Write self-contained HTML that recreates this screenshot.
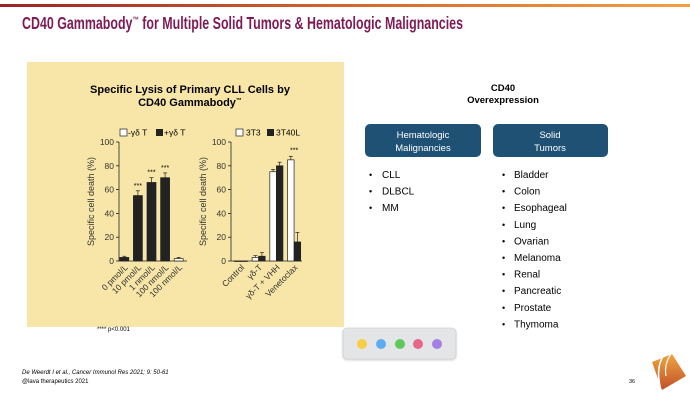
<!DOCTYPE html>
<html><head><meta charset="utf-8"><style>
html,body{margin:0;padding:0;background:#fff;}
svg{display:block;font-family:"Liberation Sans",Arial,sans-serif;}
</style></head><body>
<svg id="s" width="690" height="404" viewBox="0 0 690 404">
<defs>
<linearGradient id="tg" x1="0" x2="1"><stop offset="0" stop-color="#9c2228"/><stop offset="0.5" stop-color="#d4662c"/><stop offset="1" stop-color="#f3a043"/></linearGradient>
<linearGradient id="lg" x1="0" y1="0" x2="0" y2="1"><stop offset="0" stop-color="#f0a540"/><stop offset="1" stop-color="#c0502a"/></linearGradient>
<filter id="sh"><feDropShadow dx="0" dy="1" stdDeviation="1" flood-opacity="0.2"/></filter>
</defs>
<rect x="0" y="4" width="690" height="3" fill="url(#tg)"/>
<text x="22" y="29" font-size="17.5" font-weight="bold" fill="#7e1b56" textLength="441" lengthAdjust="spacingAndGlyphs">CD40 Gammabody<tspan font-size="9" dy="-6">™</tspan><tspan dy="6"> for Multiple Solid Tumors &amp; Hematologic Malignancies</tspan></text>
<rect x="27" y="62" width="317" height="265" fill="#f8e6a8"/>
<text x="190" y="93" font-size="11" font-weight="bold" text-anchor="middle">Specific Lysis of Primary CLL Cells by</text>
<text x="190" y="106" font-size="11" font-weight="bold" text-anchor="middle">CD40 Gammabody<tspan font-size="6" dy="-4">™</tspan></text>
<g id="c1"></g>
<g id="c2"></g>
<text x="97" y="331" font-size="6">****   p&lt;0.001</text>
<text x="503" y="91" font-size="9.5" font-weight="bold" text-anchor="middle">CD40</text>
<text x="503" y="103" font-size="9.5" font-weight="bold" text-anchor="middle">Overexpression</text>
<rect x="365" y="124" width="116" height="33" rx="5" fill="#1f5175"/>
<text x="423" y="138" font-size="9.5" fill="#fff" text-anchor="middle">Hematologic</text>
<text x="423" y="151" font-size="9.5" fill="#fff" text-anchor="middle">Malignancies</text>
<rect x="493" y="124" width="115" height="33" rx="5" fill="#1f5175"/>
<text x="550" y="138" font-size="9.5" fill="#fff" text-anchor="middle">Solid</text>
<text x="550" y="151" font-size="9.5" fill="#fff" text-anchor="middle">Tumors</text>
<g id="l1"></g>
<g id="l2"></g>
<rect x="343" y="328" width="113" height="31" rx="4" fill="#e3e5e7" stroke="#c8c8c8" stroke-width="0.6" filter="url(#sh)"/>
<circle cx="362" cy="344" r="5" fill="#f6cf45"/>
<circle cx="381" cy="344" r="5" fill="#5cacf1"/>
<circle cx="400" cy="344" r="5" fill="#5dc95c"/>
<circle cx="418" cy="344" r="5" fill="#e6678b"/>
<circle cx="437" cy="344" r="5" fill="#a47fe6"/>
<text x="22" y="374" font-size="6" font-style="italic">De Weerdt I et al., Cancer Immunol Res 2021; 9: 50-61</text>
<text x="22" y="383" font-size="6">@lava therapeutics 2021</text>
<text x="629" y="383" font-size="5.5">36</text>
<g>
<polygon points="652,362 672,354 686,376 662,390" fill="url(#lg)"/>
<path d="M663,356 Q656,368 660,386" stroke="#fff" stroke-width="1.6" fill="none"/>
<path d="M671,354 Q664,364 666,376" stroke="#fff" stroke-width="1.2" fill="none"/>
</g>
</svg>
<script>
const NS="http://www.w3.org/2000/svg";
const heme=["CLL","DLBCL","MM"];
const solid=["Bladder","Colon","Esophageal","Lung","Ovarian","Melanoma","Renal","Pancreatic","Prostate","Thymoma"];
const c1Cats=["0 pmol/L","10 pmol/L","1 nmol/L","100 nmol/L","100 nmol/L"];
const c1Vals=[3,55,66,70,2];
const c1Err=[1,4,4,4,1];
const c1Filled=[true,true,true,true,false];
const c1Sig=["","***","***","***",""];
const c2Cats=["Control","γδ-T","γδ-T + VHH","Venetoclax"];
const c2Open=[0,3,75,85];
const c2OpenErr=[0,1.5,2,3];
const c2Fill=[0,4,80,16];
const c2FillErr=[0,3,3,8];
const c2Sig=["","","","***"];
const yTicks=[0,20,40,60,80,100];

function el(tag,attrs,parent,txt){const e=document.createElementNS(NS,tag);for(const k in attrs)e.setAttribute(k,attrs[k]);if(txt!==undefined)e.textContent=txt;parent.appendChild(e);return e;}

function list(g,items,bx,tx){items.forEach((t,i)=>{const y=178+i*16.6;
 const b=el("text",{x:bx,y:y,"font-size":9},g,"•");
 
 
 const e=el("text",{x:tx,y:y,"font-size":10},g,t);
 
 });}
list(document.getElementById("l1"),heme,369,382);
list(document.getElementById("l2"),solid,502,514);

function axes(g,x0,x1,yTop,yBot){
 const ys=v=>yBot-(v/100)*(yBot-yTop);
 el("line",{x1:x0,y1:yTop,x2:x0,y2:yBot,stroke:"#222","stroke-width":0.8},g);
 el("line",{x1:x0,y1:yBot,x2:x1,y2:yBot,stroke:"#222","stroke-width":0.8},g);
 yTicks.forEach(t=>{el("line",{x1:x0-3,y1:ys(t),x2:x0,y2:ys(t),stroke:"#222","stroke-width":0.8},g);
  const l=el("text",{x:x0-5,y:ys(t)+3,"font-size":8.5,"text-anchor":"end",fill:"#333"},g,t);
  
  });
 const yt=el("text",{transform:`translate(${x0-25},${(yTop+yBot)/2}) rotate(-90)`,"font-size":9,"text-anchor":"middle",fill:"#333"},g,"Specific cell death (%)");
 
 
 return ys;}

function bar(g,cx,w,v,err,filled,ys,name){
 const yb=ys(0);
 const r=el("rect",{x:cx-w/2,y:ys(v),width:w,height:Math.max(yb-ys(v),0.5),fill:filled?"#222":"#fff",stroke:"#222","stroke-width":0.7},g);
 
 
 if(err>0){el("line",{x1:cx,y1:ys(v),x2:cx,y2:ys(v+err),stroke:"#222","stroke-width":0.7},g);
  el("line",{x1:cx-2,y1:ys(v+err),x2:cx+2,y2:ys(v+err),stroke:"#222","stroke-width":0.7},g);}}

function xlabel(g,x,y,t){const l=el("text",{transform:`translate(${x},${y}) rotate(-45)`,"font-size":8.5,"text-anchor":"end",fill:"#333"},g,t);
 
 }

(function(){const g=document.getElementById("c1");const x0=119,x1=187,yTop=142,yBot=261;
 const ys=axes(g,x0,x1,yTop,yBot);const bw=(x1-x0)/c1Cats.length;
 c1Cats.forEach((c,i)=>{const cx=x0+bw*(i+0.5)-1.5;
  bar(g,cx,9,c1Vals[i],c1Err[i],c1Filled[i],ys,"bar-"+i);
  if(c1Sig[i]){const s=el("text",{x:cx,y:ys(c1Vals[i]+c1Err[i])-3,"font-size":7,"text-anchor":"middle"},g,c1Sig[i]);
   
   }
  xlabel(g,cx+4,yBot+7,c);});
 el("rect",{x:120,y:129,width:7,height:7,fill:"#fff",stroke:"#222","stroke-width":0.7},g);
 const a=el("text",{x:128,y:135.5,"font-size":8.5},g,"-γδ T");
 el("rect",{x:156,y:129,width:7,height:7,fill:"#222"},g);
 const b=el("text",{x:164,y:135.5,"font-size":8.5},g,"+γδ T");
})();
(function(){const g=document.getElementById("c2");const x0=231,x1=302,yTop=142,yBot=261;
 const ys=axes(g,x0,x1,yTop,yBot);const gw=(x1-x0)/c2Cats.length;
 c2Cats.forEach((c,i)=>{const cx=x0+gw*(i+0.5)+1;
  bar(g,cx-3.3,6.5,c2Open[i],c2OpenErr[i],false,ys,"bar-3t3-"+i);
  bar(g,cx+3.3,6.5,c2Fill[i],c2FillErr[i],true,ys,"bar-3t40l-"+i);
  if(c2Sig[i]){const s=el("text",{x:cx,y:ys(Math.max(c2Open[i]+c2OpenErr[i],c2Fill[i]+c2FillErr[i]))-4,"font-size":7,"text-anchor":"middle"},g,c2Sig[i]);
   
   }
  xlabel(g,cx+4,yBot+7,c);});
 el("rect",{x:236,y:129,width:7,height:7,fill:"#fff",stroke:"#222","stroke-width":0.7},g);
 const a=el("text",{x:246,y:135.5,"font-size":8.5},g,"3T3");
 el("rect",{x:267,y:129,width:7,height:7,fill:"#222"},g);
 const b=el("text",{x:276,y:135.5,"font-size":8.5},g,"3T40L");
})();
</script>
</body></html>
